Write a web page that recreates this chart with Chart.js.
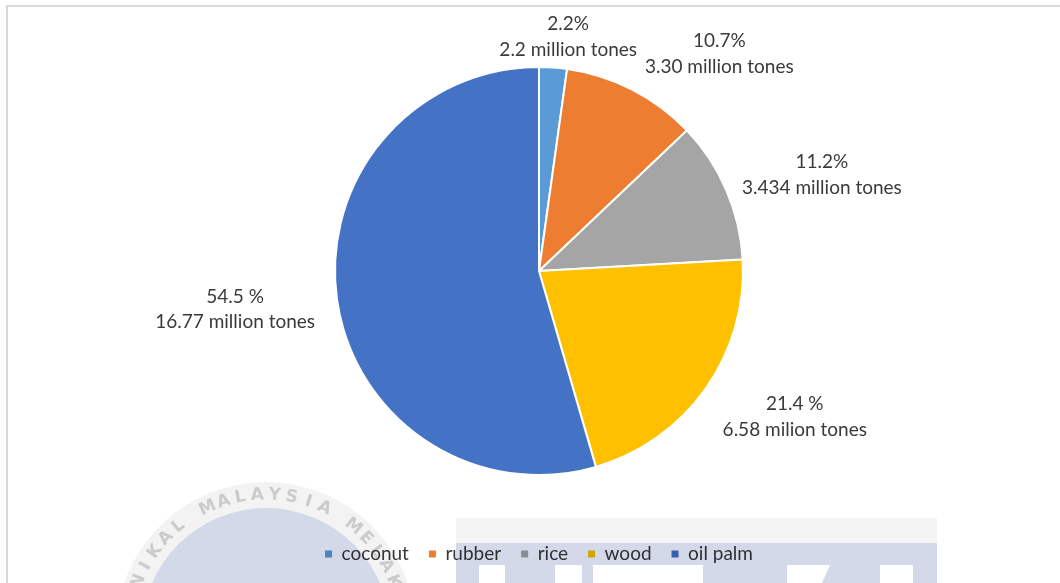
<!DOCTYPE html>
<html>
<head>
<meta charset="utf-8">
<script src="https://cdn.jsdelivr.net/npm/chart.js@4.4.1/dist/chart.umd.min.js"></script>
<style>
html, body { margin: 0; padding: 0; background: #fff; }
#wrap { position: relative; width: 1060px; height: 583px; overflow: hidden; background: #fff; }
#frame { position: absolute; left: 6px; top: 5px; width: 1100px; height: 640px; border-top: 2px solid #d9d9d9; border-left: 2px solid #d9d9d9; box-sizing: border-box; }
#c { position: absolute; left: 0; top: 0; }
#wm { position: absolute; left: 0; top: 0; mix-blend-mode: multiply; pointer-events: none; }
</style>
</head>
<body>
<div id="wrap">
  <div id="frame"></div>
  <canvas id="c" width="1060" height="583"></canvas>
  <canvas id="wm" width="1060" height="583"></canvas>
</div>
<script>
// ---- data ----
const categories = ['coconut', 'rubber', 'rice', 'wood', 'oil palm'];
const shares = [2.2, 10.7, 11.2, 21.4, 54.5];
const percentLabels = ['2.2%', '10.7%', '11.2%', '21.4 %', '54.5 %'];
const tonnageLabels = ['2.2 million tones', '3.30 million tones', '3.434 million tones', '6.58 milion tones', '16.77 million tones'];
const sliceColors = ['#5B9BD5', '#ED7D31', '#A5A5A5', '#FFC000', '#4472C4'];

// ---- slice label plugin (labels placed outside each arc) ----
const sliceLabels = {
  id: 'sliceLabels',
  afterDatasetsDraw(chart, args, opts) {
    const meta = chart.getDatasetMeta(0);
    const ctx = chart.ctx;
    ctx.save();
    ctx.font = opts.font;
    ctx.fillStyle = opts.color;
    ctx.textAlign = 'center';
    ctx.textBaseline = 'middle';
    meta.data.forEach((arc, i) => {
      const p = arc.getProps(['x', 'y', 'startAngle', 'endAngle', 'outerRadius'], true);
      const mid = (p.startAngle + p.endAngle) / 2;
      const lines = [percentLabels[i], tonnageLabels[i]];
      const w = Math.max(...lines.map(l => ctx.measureText(l).width));
      const h = opts.lineHeight * lines.length;
      const r = p.outerRadius + opts.gap;
      let cx = p.x + Math.cos(mid) * r + Math.cos(mid) * w / 2;
      let cy = p.y + Math.sin(mid) * r + Math.sin(mid) * h / 2;
      cx += opts.nudge[i][0];
      cy += opts.nudge[i][1];
      lines.forEach((l, k) => ctx.fillText(l, cx, cy + (k - (lines.length - 1) / 2) * opts.lineHeight));
    });
    ctx.restore();
  }
};

const baseGen = Chart.overrides.doughnut.plugins.legend.labels.generateLabels;

new Chart(document.getElementById('c'), {
  type: 'pie',
  data: {
    labels: categories,
    datasets: [{
      data: shares,
      backgroundColor: sliceColors,
      borderColor: '#ffffff',
      borderWidth: 2,
      hoverOffset: 0,
      radius: 204
    }]
  },
  options: {
    responsive: false,
    animation: false,
    devicePixelRatio: 1,
    layout: { padding: { top: 17.5, left: 18, right: 0, bottom: 9.5 } },
    plugins: {
      tooltip: { enabled: false },
      legend: {
        position: 'bottom',
        labels: {
          usePointStyle: true,
          pointStyle: 'rect',
          boxWidth: 7,
          boxHeight: 7,
          padding: 20,
          color: '#383838',
          font: { family: 'Lato', size: 19 },
          generateLabels(chart) {
            const items = baseGen(chart);
            items.forEach(it => { it.lineWidth = 0; it.strokeStyle = 'rgba(0,0,0,0)'; });
            return items;
          }
        }
      },
      sliceLabels: {
        font: '19px Lato',
        color: '#3a3a3a',
        lineHeight: 25.5,
        gap: 20,
        nudge: [[9, 15], [44, 5], [4, 3], [14, 2], [-3, 3]]
      }
    }
  },
  plugins: [sliceLabels]
});

// ---- faint background watermark (multiplied over the chart) ----
(function () {
  const c = document.getElementById('wm').getContext('2d');
  // left circular seal
  const sx = 266, sy = 632;
  c.fillStyle = '#f3f3f3';
  c.beginPath(); c.arc(sx, sy, 150, 0, Math.PI * 2); c.fill();
  c.fillStyle = '#d3d9e8';
  c.beginPath(); c.arc(sx, sy, 124, 0, Math.PI * 2); c.fill();
  const txt = 'UNIVERSITI TEKNIKAL MALAYSIA MELAKA';
  const step = 7.2 * Math.PI / 180;
  const startIdx = txt.indexOf('MALAYSIA');
  const centerIdx = startIdx + 3.5;
  c.font = 'bold 17px "DejaVu Sans"';
  c.fillStyle = '#cbcbcb';
  c.textAlign = 'center';
  c.textBaseline = 'middle';
  for (let i = 0; i < txt.length; i++) {
    const a = (i - centerIdx) * step;
    c.save();
    c.translate(sx + Math.sin(a) * 137, sy - Math.cos(a) * 137);
    c.rotate(a);
    c.fillText(txt[i], 0, 0);
    c.restore();
  }
  // right block
  c.fillStyle = '#f4f4f4';
  c.fillRect(456, 518, 481, 25);
  c.fillStyle = '#d3d9e8';
  c.fillRect(456, 543, 481, 40);
  c.fillStyle = '#ffffff';
  [[479, 26], [555, 27], [593, 110], [787, 33], [880, 33]].forEach(([x, w]) => c.fillRect(x, 565, w, 18));
  c.beginPath(); c.moveTo(820, 565); c.lineTo(830, 565); c.lineTo(822, 583); c.lineTo(820, 583); c.fill();
})();
</script>
</body>
</html>
